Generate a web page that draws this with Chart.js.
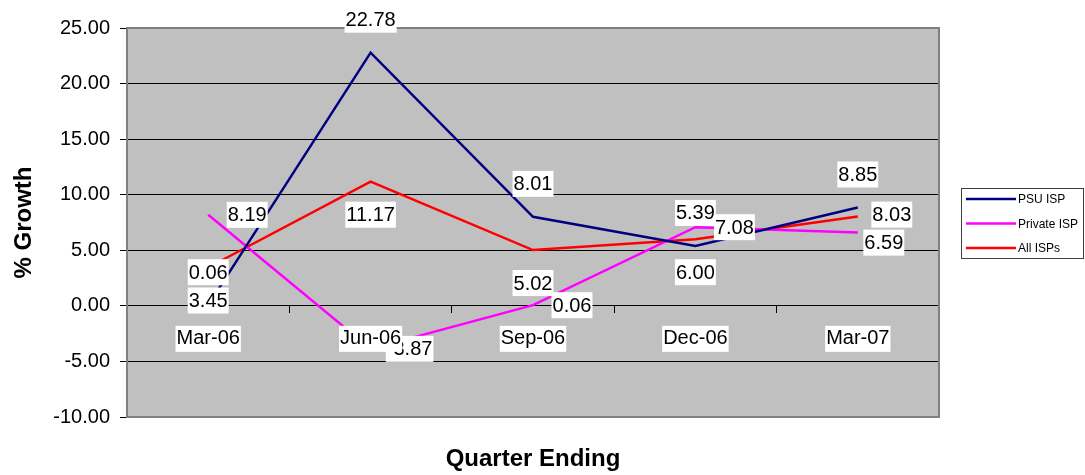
<!DOCTYPE html>
<html>
<head>
<meta charset="utf-8">
<script src="https://cdn.jsdelivr.net/npm/chart.js@4.4.1/dist/chart.umd.min.js"></script>
<style>
  html, body { margin: 0; padding: 0; background: #fff; }
  #wrap { width: 1085px; height: 475px; }
</style>
</head>
<body>
<div id="wrap"><canvas id="chart" width="1085" height="475"></canvas></div>
<script>
// Quarterly % growth
const quarters   = ['Mar-06', 'Jun-06', 'Sep-06', 'Dec-06', 'Mar-07'];
const psuIsp     = [0.06, 22.78, 8.01, 5.39, 8.85];
const privateIsp = [8.19, -3.87, 0.06, 7.08, 6.59];
const allIsps    = [3.45, 11.17, 5.02, 6.00, 8.03];
const yMin = -10, yMax = 25, yStep = 5;

const FONT = "'Liberation Sans', Arial, sans-serif";
Chart.defaults.font.family = FONT;
Chart.defaults.color = '#000';

// where each series puts its value labels (px from the point)
const labelOffset = {
  'PSU ISP':     { dx: 0,  dy: -33 },
  'Private ISP': { dx: 39, dy: 0 },
  'All ISPs':    { dx: 0,  dy: 33 }
};
const labelOverride = {
  'Private ISP': { 4: { dx: 26, dy: 10 } },
  'All ISPs':    { 4: { dx: 34, dy: -2 } }
};

const plotBox = {
  id: 'plotBox',
  beforeDraw(chart) {
    const { ctx, chartArea: a } = chart;
    ctx.save();
    ctx.fillStyle = '#c0c0c0';
    ctx.fillRect(a.left, a.top, a.right - a.left, a.bottom - a.top);
    ctx.restore();
  },
  beforeDatasetsDraw(chart) {
    const { ctx, chartArea: a } = chart;
    ctx.save();
    ctx.strokeStyle = '#808080';
    ctx.lineWidth = 2;
    ctx.strokeRect(a.left, a.top, a.right - a.left, a.bottom - a.top);
    ctx.restore();
  },
  afterDatasetsDraw(chart) {
    // value labels, white boxes
    const ctx = chart.ctx;
    ctx.save();
    ctx.font = '20px ' + FONT;
    ctx.textAlign = 'center';
    ctx.textBaseline = 'middle';
    chart.data.datasets.forEach((ds, i) => {
      const meta = chart.getDatasetMeta(i);
      meta.data.forEach((pt, j) => {
        const o = (labelOverride[ds.label] || {})[j] || labelOffset[ds.label];
        const txt = ds.data[j].toFixed(2);
        const x = pt.x + o.dx, y = pt.y + o.dy;
        const w = ctx.measureText(txt).width + 2;
        ctx.fillStyle = '#fff';
        ctx.fillRect(x - w / 2, y - 13, w, 26);
        ctx.fillStyle = '#000';
        ctx.fillText(txt, x, y + 1);
      });
    });
    ctx.restore();
  },
  afterDraw(chart) {
    // legend box on the right
    const ctx = chart.ctx;
    const bx = 961, by = 188, bw = 123, bh = 71;
    ctx.save();
    ctx.fillStyle = '#fff';
    ctx.fillRect(bx, by, bw, bh);
    ctx.strokeStyle = '#404040';
    ctx.lineWidth = 1;
    ctx.strokeRect(bx + 0.5, by + 0.5, bw - 1, bh - 1);
    ctx.font = '12px ' + FONT;
    ctx.textBaseline = 'middle';
    chart.data.datasets.forEach((ds, i) => {
      const y = 199 + i * 24.5;
      ctx.strokeStyle = ds.borderColor;
      ctx.lineWidth = 2.5;
      ctx.beginPath();
      ctx.moveTo(966, y);
      ctx.lineTo(1016, y);
      ctx.stroke();
      ctx.fillStyle = '#000';
      ctx.fillText(ds.label, 1018, y + 1);
    });
    ctx.restore();
  }
};

new Chart(document.getElementById('chart'), {
  type: 'line',
  data: {
    labels: quarters,
    datasets: [
      { label: 'PSU ISP',     data: psuIsp,     borderColor: '#000080' },
      { label: 'Private ISP', data: privateIsp, borderColor: '#ff00ff' },
      { label: 'All ISPs',    data: allIsps,    borderColor: '#ff0000' }
    ]
  },
  options: {
    responsive: false,
    animation: false,
    layout: { padding: { left: 0, right: 146, top: 28, bottom: 0 } },
    elements: {
      line: { borderWidth: 2.5, tension: 0, fill: false },
      point: { radius: 0, hoverRadius: 0 }
    },
    plugins: { legend: { display: false }, tooltip: { enabled: false } },
    scales: {
      x: {
        type: 'category',
        position: { y: 0 },
        offset: true,
        border: { display: false },
        grid: { offset: true, drawOnChartArea: false, drawTicks: true, tickLength: 7, color: '#000' },
        ticks: {
          z: 1,
          font: { size: 20 },
          padding: 14,
          maxRotation: 0,
          autoSkip: false,
          showLabelBackdrop: true,
          backdropColor: '#fff',
          backdropPadding: 1
        }
      },
      x2: {
        type: 'category',
        axis: 'x',
        position: 'bottom',
        labels: quarters,
        grid: { display: false },
        border: { display: false },
        ticks: { display: false },
        title: { display: true, text: 'Quarter Ending', font: { size: 24, weight: 'bold' }, padding: { top: 0, bottom: 1 } },
        afterFit: s => { s.height = 58; }
      },
      y: {
        min: yMin,
        max: yMax,
        border: { display: false },
        grid: { color: '#000', lineWidth: 1, drawTicks: true, tickLength: 7 },
        ticks: { stepSize: yStep, font: { size: 20 }, padding: 10, callback: v => v.toFixed(2) },
        title: { display: true, text: '% Growth', font: { size: 24, weight: 'bold' }, padding: { top: 10, bottom: 0 } },
        afterFit: s => { s.width = 127; }
      }
    }
  },
  plugins: [plotBox]
});
</script>
</body>
</html>
